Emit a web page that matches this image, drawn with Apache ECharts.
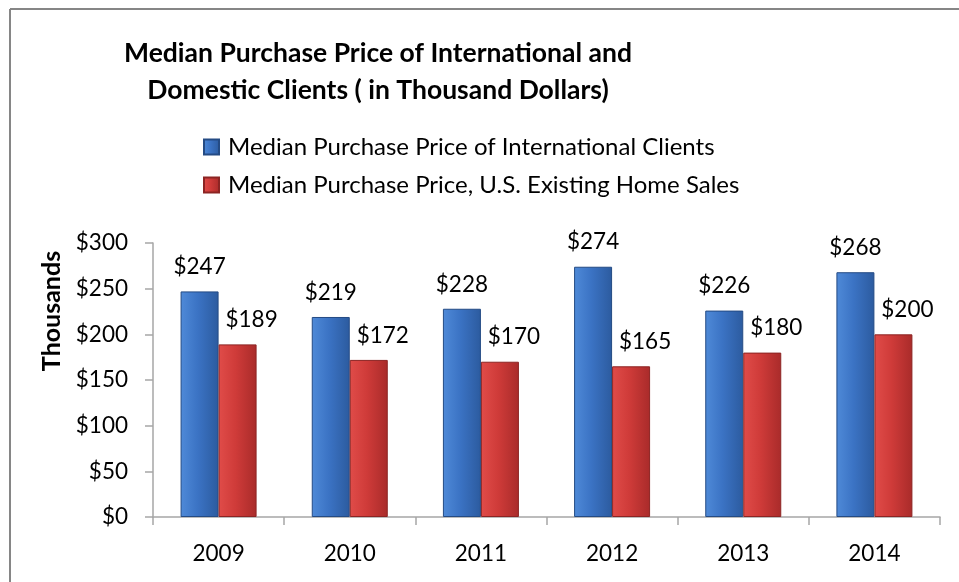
<!DOCTYPE html>
<html lang="en">
<head>
<meta charset="UTF-8">
<title>Median Purchase Price</title>
<script src="https://cdn.jsdelivr.net/npm/echarts@6/dist/echarts.min.js"></script>
<style>
  html, body { margin: 0; padding: 0; background: #fff; }
  #chart { width: 959px; height: 582px; }
</style>
</head>
<body>
<div id="chart"></div>
<script>
  // data
  const years = ['2009', '2010', '2011', '2012', '2013', '2014'];
  const intlPrice = [247, 219, 228, 274, 226, 268];
  const usPrice = [189, 172, 170, 165, 180, 200];
  const yTicks = { min: 0, max: 300, step: 50 };

  const FONT = 'Lato, "Open Sans", sans-serif';

  function barGrad(light, mid, dark) {
    return new echarts.graphic.LinearGradient(0, 0, 1, 0, [
      { offset: 0, color: light },
      { offset: 0.45, color: mid },
      { offset: 1, color: dark }
    ]);
  }
  const blue = barGrad('#4f8ad8', '#3b73c4', '#2c5b9f');
  const red = barGrad('#e04c49', '#cf3b39', '#a92b2a');

  const chart = echarts.init(document.getElementById('chart'));

  function labelCfg(dx) {
    return {
      show: true,
      position: 'top',
      distance: 13,
      offset: [dx, 0],
      fontFamily: FONT,
      fontSize: 22.5,
      color: '#000',
      formatter: p => '$' + p.value
    };
  }

  chart.setOption({
    animation: false,
    title: {
      text: 'Median Purchase Price of International and\nDomestic Clients ( in Thousand Dollars)',
      left: 373,
      textAlign: 'center',
      top: 30,
      textStyle: { fontFamily: FONT, fontSize: 26.5, fontWeight: 'bold', color: '#000', lineHeight: 37 }
    },
    legend: {
      orient: 'vertical',
      left: 198,
      top: 130,
      itemWidth: 15,
      itemHeight: 15,
      itemGap: 14,
      icon: 'rect',
      textStyle: { fontFamily: FONT, fontSize: 24, lineHeight: 24, color: '#000', padding: [0, 0, 0, 4] },
      data: ['Median Purchase Price of International Clients', 'Median Purchase Price, U.S. Existing Home Sales']
    },
    grid: { left: 153, right: 19, top: 243, bottom: 65 },
    xAxis: {
      type: 'category',
      data: years,
      axisLine: { lineStyle: { color: '#a6a6a6', width: 1.5 } },
      axisTick: { show: true, length: 8, lineStyle: { color: '#a6a6a6', width: 1.5 } },
      axisLabel: { fontFamily: FONT, fontSize: 22.5, color: '#000', margin: 25 }
    },
    yAxis: {
      type: 'value',
      min: yTicks.min,
      max: yTicks.max,
      interval: yTicks.step,
      axisLine: { show: true, lineStyle: { color: '#a6a6a6', width: 1.5 } },
      axisTick: { show: true, length: 8, lineStyle: { color: '#a6a6a6', width: 1.5 } },
      splitLine: { show: false },
      axisLabel: { fontFamily: FONT, fontSize: 22.5, color: '#000', margin: 25, formatter: v => '$' + v }
    },
    series: [
      {
        name: 'Median Purchase Price of International Clients',
        type: 'bar',
        data: intlPrice,
        barWidth: 38,
        barGap: '0%',
        itemStyle: { color: blue, borderColor: '#244b84', borderWidth: 1 },
        label: labelCfg(0)
      },
      {
        name: 'Median Purchase Price, U.S. Existing Home Sales',
        type: 'bar',
        data: usPrice,
        barWidth: 38,
        barGap: '0%',
        itemStyle: { color: red, borderColor: '#8c2423', borderWidth: 1 },
        label: labelCfg(14)
      }
    ],
    graphic: [
      { type: 'line', shape: { x1: 10, y1: 9, x2: 959, y2: 9 }, style: { stroke: '#868686', lineWidth: 2 } },
      { type: 'line', shape: { x1: 10, y1: 9, x2: 10, y2: 582 }, style: { stroke: '#868686', lineWidth: 2 } },
      {
        type: 'text',
        x: 52, y: 311,
        rotation: Math.PI / 2,
        style: { text: 'Thousands', fontFamily: FONT, fontSize: 25, fontWeight: 'bold', fill: '#000', align: 'center', verticalAlign: 'middle' }
      }
    ]
  });
</script>
</body>
</html>
